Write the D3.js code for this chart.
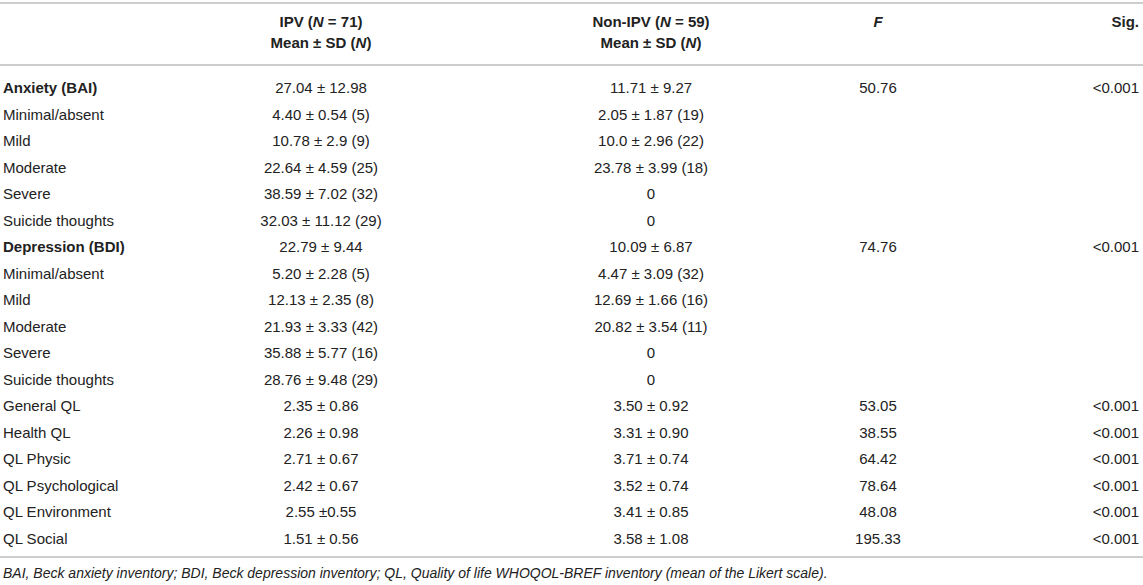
<!DOCTYPE html>
<html>
<head>
  <meta charset="utf-8">
  <title>IPV table</title>
  <script src="https://d3js.org/d3.v7.min.js"></script>
  <style>
    body { margin: 0; background: #fff; }
    text { font-family: "Liberation Sans", Arial, Helvetica, sans-serif; fill: #222; }
  </style>
</head>
<body>
  <script>
    // table data
    const rowLabels = ['Anxiety (BAI)', 'Minimal/absent', 'Mild', 'Moderate', 'Severe', 'Suicide thoughts',
      'Depression (BDI)', 'Minimal/absent', 'Mild', 'Moderate', 'Severe', 'Suicide thoughts',
      'General QL', 'Health QL', 'QL Physic', 'QL Psychological', 'QL Environment', 'QL Social'];
    const boldRows = ['Anxiety (BAI)', 'Depression (BDI)'];
    const ipvValues = ['27.04 ± 12.98', '4.40 ± 0.54 (5)', '10.78 ± 2.9 (9)', '22.64 ± 4.59 (25)', '38.59 ± 7.02 (32)', '32.03 ± 11.12 (29)',
      '22.79 ± 9.44', '5.20 ± 2.28 (5)', '12.13 ± 2.35 (8)', '21.93 ± 3.33 (42)', '35.88 ± 5.77 (16)', '28.76 ± 9.48 (29)',
      '2.35 ± 0.86', '2.26 ± 0.98', '2.71 ± 0.67', '2.42 ± 0.67', '2.55 ±0.55', '1.51 ± 0.56'];
    const nonIpvValues = ['11.71 ± 9.27', '2.05 ± 1.87 (19)', '10.0 ± 2.96 (22)', '23.78 ± 3.99 (18)', '0', '0',
      '10.09 ± 6.87', '4.47 ± 3.09 (32)', '12.69 ± 1.66 (16)', '20.82 ± 3.54 (11)', '0', '0',
      '3.50 ± 0.92', '3.31 ± 0.90', '3.71 ± 0.74', '3.52 ± 0.74', '3.41 ± 0.85', '3.58 ± 1.08'];
    const fValues = ['50.76', '', '', '', '', '', '74.76', '', '', '', '', '',
      '53.05', '38.55', '64.42', '78.64', '48.08', '195.33'];
    const sigValues = ['<0.001', '', '', '', '', '', '<0.001', '', '', '', '', '',
      '<0.001', '<0.001', '<0.001', '<0.001', '<0.001', '<0.001'];
    const footnote = 'BAI, Beck anxiety inventory; BDI, Beck depression inventory; QL, Quality of life WHOQOL-BREF inventory (mean of the Likert scale).';

    const width = 1143, height = 585;
    const svg = d3.select('body').append('svg')
      .attr('width', width).attr('height', height);

    // row baselines
    const y = d3.scalePoint()
      .domain(d3.range(rowLabels.length))
      .range([93, 543.5]);

    const colX = { label: 3, ipv: 321, non: 651, f: 878, sig: 1139 };

    // rules
    [3, 65, 557].forEach(yy => {
      svg.append('line').attr('x1', 0).attr('x2', width)
        .attr('y1', yy).attr('y2', yy)
        .attr('stroke', '#bdbdbd').attr('stroke-width', 1.6);
    });

    // header
    const head = svg.append('g').attr('font-size', 15).attr('font-weight', 'bold');
    function headCell(x, yy, parts, anchor) {
      const t = head.append('text').attr('x', x).attr('y', yy).attr('text-anchor', anchor);
      parts.forEach(p => t.append('tspan').attr('font-style', p[1] ? 'italic' : null).text(p[0]));
    }
    headCell(colX.ipv, 27, [['IPV ('], ['N', 1], [' = 71)']], 'middle');
    headCell(colX.ipv, 48, [['Mean ± SD ('], ['N', 1], [')']], 'middle');
    headCell(colX.non, 27, [['Non-IPV ('], ['N', 1], [' = 59)']], 'middle');
    headCell(colX.non, 48, [['Mean ± SD ('], ['N', 1], [')']], 'middle');
    headCell(colX.f, 27, [['F', 1]], 'middle');
    headCell(colX.sig, 27, [['Sig.']], 'end');

    // body
    const rows = svg.append('g').attr('font-size', 15)
      .selectAll('g').data(rowLabels).join('g')
      .attr('transform', (d, i) => `translate(0,${y(i)})`);

    rows.append('text').attr('x', colX.label)
      .attr('font-weight', d => boldRows.includes(d) ? 'bold' : null)
      .text(d => d);
    rows.append('text').attr('x', colX.ipv).attr('text-anchor', 'middle')
      .text((d, i) => ipvValues[i]);
    rows.append('text').attr('x', colX.non).attr('text-anchor', 'middle')
      .text((d, i) => nonIpvValues[i]);
    rows.append('text').attr('x', colX.f).attr('text-anchor', 'middle')
      .text((d, i) => fValues[i]);
    rows.append('text').attr('x', colX.sig).attr('text-anchor', 'end')
      .text((d, i) => sigValues[i]);

    svg.append('text').attr('x', colX.label).attr('y', 578)
      .attr('font-size', 14).attr('font-style', 'italic')
      .text(footnote);
  </script>
</body>
</html>
